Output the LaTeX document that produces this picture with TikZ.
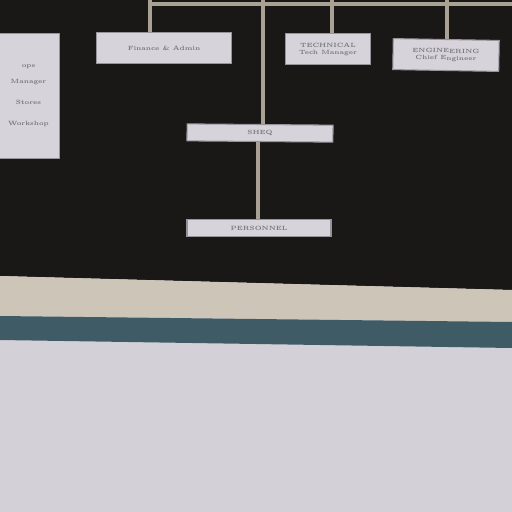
\documentclass[tikz,border=0pt]{standalone}
\usepackage{xcolor}

\definecolor{board}{HTML}{1A1816}
\definecolor{card}{HTML}{D6D4DA}
\definecolor{chalk}{HTML}{A9A294}
\definecolor{ledge}{HTML}{CDC5B8}
\definecolor{stripe}{HTML}{3E5B66}
\definecolor{wall}{HTML}{D3D1D7}
\definecolor{ink}{HTML}{77757D}

\begin{document}
\begin{tikzpicture}[x=0.02cm, y=-0.02cm, line width=2.2pt,
    card/.style={rectangle, fill=card, draw=card!70!black, line width=0.6pt, inner sep=1pt, font=\fontsize{3.5}{4}\selectfont\bfseries, text=ink, align=center},
    link/.style={draw=chalk, line width=2.6pt}]
    \useasboundingbox (0,0) rectangle (512,512);
    \clip (0,0) rectangle (512,512);

    % Background
    \fill[wall] (0,0) rectangle (512,512);
    \fill[board] (0,0) -- (512,0) -- (512,290) -- (0,276) -- cycle;
    \fill[ledge] (0,276) -- (512,290) -- (512,322) -- (0,316) -- cycle;
    \fill[stripe] (0,316) -- (512,322) -- (512,348) -- (0,340) -- cycle;

    % Nodes
    \coordinate (top1) at (150,0);
    \coordinate (top2) at (263,0);
    \coordinate (top3) at (332,0);
    \coordinate (top4) at (447,0);
    \coordinate (topR) at (512,4);

    \node[card, anchor=north west, minimum width=1.24cm, minimum height=2.5cm] (ops) at (-3,33) {ops\\[5pt]Manager\\[8pt]Stores\\[8pt]Workshop};
    \node[card, minimum width=2.7cm, minimum height=0.62cm] (fin) at (164,48) {Finance \& Admin};
    \node[card, minimum width=1.7cm, minimum height=0.62cm] (tech) at (328,49) {TECHNICAL\\Tech Manager};
    \node[card, minimum width=2.12cm, minimum height=0.62cm, rotate=-1] (eng) at (446,55) {ENGINEERING\\Chief Engineer};
    \node[card, minimum width=2.92cm, minimum height=0.34cm, rotate=-0.5] (sheq) at (260,133) {SHEQ};
    \node[card, minimum width=2.88cm, minimum height=0.34cm] (hr) at (259,228) {PERSONNEL};

    % Edges
    \draw[link] (top1) -- (150,4) -- (topR);
    \draw[link] (top1) -- (fin.north -| top1);
    \draw[link] (top2) -- (sheq.north -| top2);
    \draw[link] (top3) -- (tech.north -| top3);
    \draw[link] (top4) -- (eng.north -| top4);
    \draw[link] (sheq.south -| 258,0) -- (hr.north -| 258,0);
\end{tikzpicture}
\end{document}
